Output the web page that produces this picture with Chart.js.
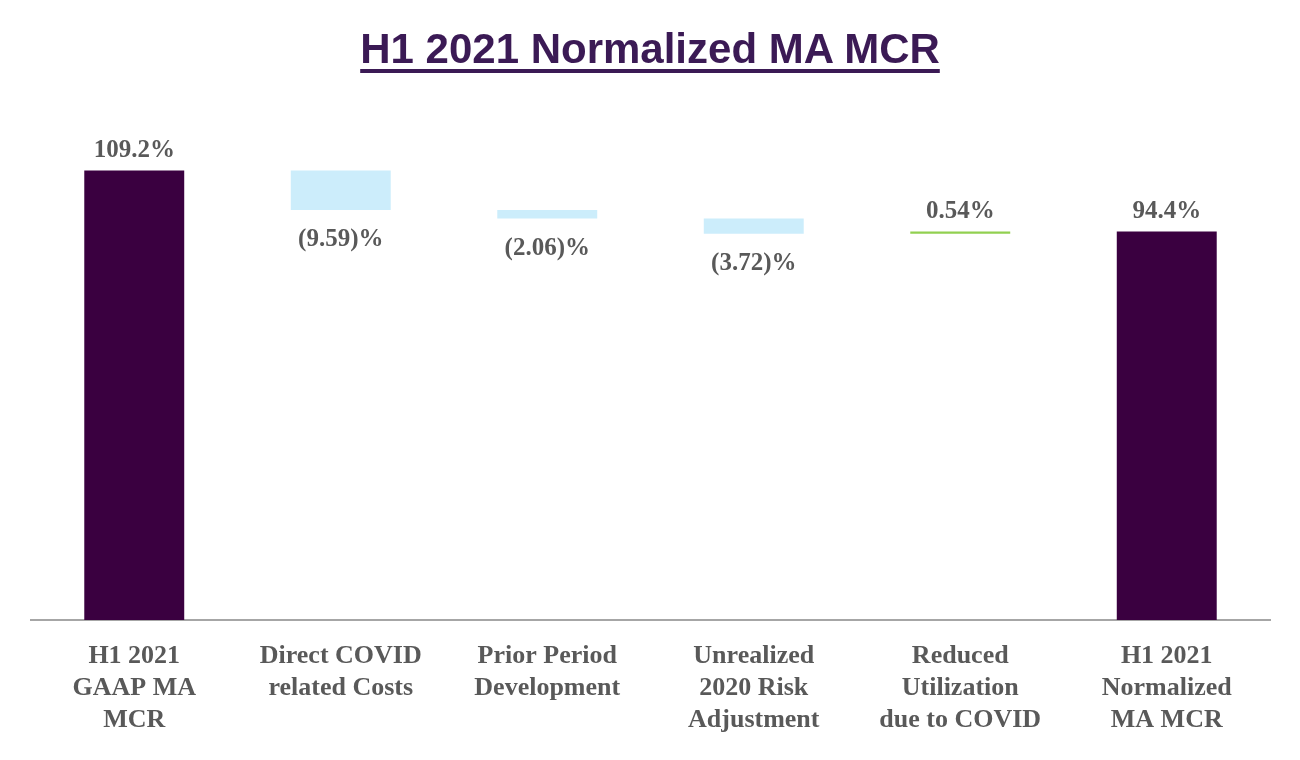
<!DOCTYPE html>
<html>
<head>
<meta charset="utf-8">
<script src="https://cdn.jsdelivr.net/npm/chart.js@4.4.1/dist/chart.umd.min.js"></script>
<style>
  html, body { margin: 0; padding: 0; background: #fff; }
  #wrap { position: relative; width: 1300px; height: 760px; }
  #title {
    position: absolute; left: 0; top: 25px; width: 1300px; text-align: center;
    font: bold 42px "Liberation Sans", Arial, sans-serif; line-height: 48px;
    color: #3B1A55; text-decoration: underline; text-decoration-thickness: 4px;
    text-underline-offset: 6px;
  }
</style>
</head>
<body>
<div id="wrap">
  <canvas id="myChart" width="1300" height="760"></canvas>
  <div id="title">H1 2021 Normalized MA MCR</div>
</div>
<script>
const categories = [
  ["H1 2021", "GAAP MA", "MCR"],
  ["Direct COVID", "related Costs"],
  ["Prior Period", "Development"],
  ["Unrealized", "2020 Risk", "Adjustment"],
  ["Reduced", "Utilization", "due to COVID"],
  ["H1 2021", "Normalized", "MA MCR"],
];
const values = [109.2, -9.59, -2.06, -3.72, 0.54, 94.4];
const kinds = ["total", "step", "step", "step", "step", "total"];
const colors = ["#3A0040", "#CCEDFB", "#CCEDFB", "#CCEDFB", "#92D050", "#3A0040"];

// build floating ranges for the waterfall
let running = 0;
const ranges = values.map((v, i) => {
  if (kinds[i] === "total") {
    running = v;
    return [0, v];
  }
  const start = running;
  running = running + v;
  return [start, running];
});

const labelText = values.map((v, i) => {
  if (kinds[i] === "total") return v.toFixed(1) + "%";
  return v < 0 ? "(" + Math.abs(v).toFixed(2) + ")%" : v.toFixed(2) + "%";
});

const valueLabels = {
  id: "valueLabels",
  afterDatasetsDraw(chart) {
    const ctx = chart.ctx;
    const meta = chart.getDatasetMeta(0);
    ctx.save();
    ctx.font = "bold 25px 'Liberation Serif', 'Times New Roman', serif";
    ctx.fillStyle = "#595959";
    ctx.textAlign = "center";
    ctx.textBaseline = "middle";
    meta.data.forEach((bar, i) => {
      const top = Math.min(bar.y, bar.base);
      const bottom = Math.max(bar.y, bar.base);
      if (values[i] < 0) {
        ctx.fillText(labelText[i], bar.x, bottom + 30);
      } else {
        ctx.fillText(labelText[i], bar.x, top - 20);
      }
    });
    ctx.restore();
  },
};

const myChart = new Chart("myChart", {
  type: "bar",
  data: {
    labels: categories,
    datasets: [
      {
        data: ranges,
        backgroundColor: colors,
        borderWidth: 0,
        borderSkipped: false,
        categoryPercentage: 1,
        barPercentage: 0.484,
      },
    ],
  },
  options: {
    responsive: false,
    animation: false,
    layout: { padding: { top: 126, left: 31, right: 30, bottom: 4 } },
    plugins: {
      legend: { display: false },
      tooltip: { enabled: false },
    },
    scales: {
      y: { display: false, min: 0, max: 120 },
      x: {
        grid: { display: false, drawTicks: false },
        border: { display: true, color: "#A6A6A6", width: 2 },
        ticks: {
          color: "#595959",
          padding: 20,
          maxRotation: 0,
          autoSkip: false,
          font: { family: "'Liberation Serif', 'Times New Roman', serif", size: 26, weight: "bold", lineHeight: "32px" },
        },
      },
    },
  },
  plugins: [valueLabels],
});
</script>
</body>
</html>
